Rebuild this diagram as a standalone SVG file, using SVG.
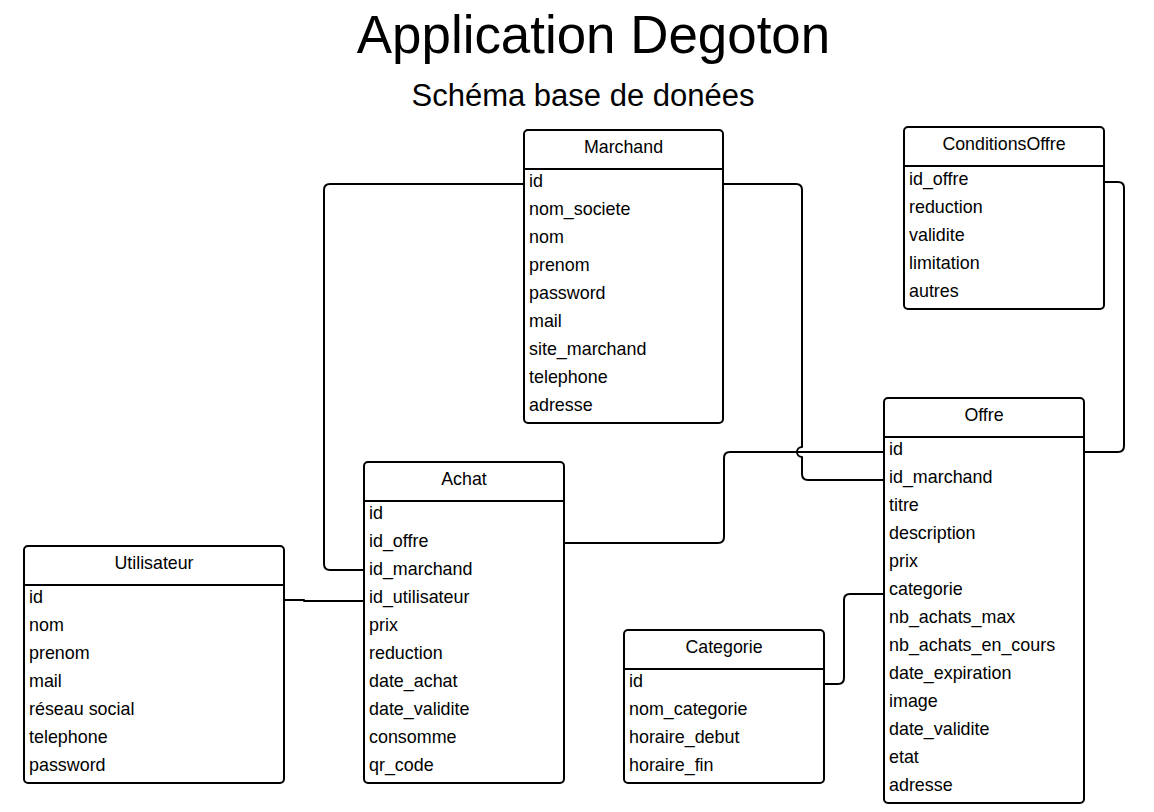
<svg xmlns="http://www.w3.org/2000/svg" width="1154" height="812" viewBox="0 0 1154 812">
<style>
.box{fill:#fff;stroke:#000;stroke-width:2}
.sep{stroke:#000;stroke-width:2}
.hd{font-family:"Liberation Sans",Arial,sans-serif;font-size:17.8px;text-anchor:middle;fill:#000}
.row{font-family:"Liberation Sans",Arial,sans-serif;font-size:17.9px;fill:#000}
.con{fill:none;stroke:#000;stroke-width:2;stroke-linejoin:round}
</style>
<rect width="1154" height="812" fill="#fff"/>
<text x="593.5" y="53" font-family="Liberation Sans, Arial, sans-serif" font-size="52.9" text-anchor="middle">Application Degoton</text>
<text x="583" y="106" font-family="Liberation Sans, Arial, sans-serif" font-size="31" text-anchor="middle">Schéma base de donées</text>

<g id="connectors">
<path class="con" d="M524,184 H330 Q324,184 324,190 V564 Q324,570 330,570 H364"/>
<path class="con" d="M723,184 H796 Q802,184 802,190 V447 A5,5 0 0 0 802,457 V474 Q802,480 808,480 H884"/>
<path class="con" d="M884,452 H730 Q724,452 724,458 V537 Q724,543 718,543 H564"/>
<path class="con" d="M1104,182 H1118 Q1124,182 1124,188 V446 Q1124,452 1118,452 H1084"/>
<path class="con" d="M284,600 H304 V601 H364"/>
<path class="con" d="M824,684 H838 Q844,684 844,678 V600 Q844,594 850,594 H884"/>
</g>

<g id="marchand">
<rect class="box" x="524" y="130" width="199" height="293" rx="4"/>
<line class="sep" x1="524" y1="169" x2="723" y2="169"/>
<text class="hd" x="623.5" y="153">Marchand</text>
<text class="row" x="529" y="187">id</text>
<text class="row" x="529" y="215">nom_societe</text>
<text class="row" x="529" y="243">nom</text>
<text class="row" x="529" y="271">prenom</text>
<text class="row" x="529" y="299">password</text>
<text class="row" x="529" y="327">mail</text>
<text class="row" x="529" y="355">site_marchand</text>
<text class="row" x="529" y="383">telephone</text>
<text class="row" x="529" y="411">adresse</text>
</g>

<g id="conditionsoffre">
<rect class="box" x="904" y="127" width="200" height="182" rx="4"/>
<line class="sep" x1="904" y1="166" x2="1104" y2="166"/>
<text class="hd" x="1004" y="150">ConditionsOffre</text>
<text class="row" x="909" y="185">id_offre</text>
<text class="row" x="909" y="213">reduction</text>
<text class="row" x="909" y="241">validite</text>
<text class="row" x="909" y="269">limitation</text>
<text class="row" x="909" y="297">autres</text>
</g>

<g id="offre">
<rect class="box" x="884" y="398" width="200" height="405" rx="4"/>
<line class="sep" x1="884" y1="437" x2="1084" y2="437"/>
<text class="hd" x="984" y="421">Offre</text>
<text class="row" x="889" y="455">id</text>
<text class="row" x="889" y="483">id_marchand</text>
<text class="row" x="889" y="511">titre</text>
<text class="row" x="889" y="539">description</text>
<text class="row" x="889" y="567">prix</text>
<text class="row" x="889" y="595">categorie</text>
<text class="row" x="889" y="623">nb_achats_max</text>
<text class="row" x="889" y="651">nb_achats_en_cours</text>
<text class="row" x="889" y="679">date_expiration</text>
<text class="row" x="889" y="707">image</text>
<text class="row" x="889" y="735">date_validite</text>
<text class="row" x="889" y="763">etat</text>
<text class="row" x="889" y="791">adresse</text>
</g>

<g id="achat">
<rect class="box" x="364" y="462" width="200" height="321" rx="4"/>
<line class="sep" x1="364" y1="501" x2="564" y2="501"/>
<text class="hd" x="464" y="485">Achat</text>
<text class="row" x="369" y="519">id</text>
<text class="row" x="369" y="547">id_offre</text>
<text class="row" x="369" y="575">id_marchand</text>
<text class="row" x="369" y="603">id_utilisateur</text>
<text class="row" x="369" y="631">prix</text>
<text class="row" x="369" y="659">reduction</text>
<text class="row" x="369" y="687">date_achat</text>
<text class="row" x="369" y="715">date_validite</text>
<text class="row" x="369" y="743">consomme</text>
<text class="row" x="369" y="771">qr_code</text>
</g>

<g id="utilisateur">
<rect class="box" x="24" y="546" width="260" height="237" rx="4"/>
<line class="sep" x1="24" y1="585" x2="284" y2="585"/>
<text class="hd" x="154" y="569">Utilisateur</text>
<text class="row" x="29" y="603">id</text>
<text class="row" x="29" y="631">nom</text>
<text class="row" x="29" y="659">prenom</text>
<text class="row" x="29" y="687">mail</text>
<text class="row" x="29" y="715">réseau social</text>
<text class="row" x="29" y="743">telephone</text>
<text class="row" x="29" y="771">password</text>
</g>

<g id="categorie">
<rect class="box" x="624" y="630" width="200" height="153" rx="4"/>
<line class="sep" x1="624" y1="669" x2="824" y2="669"/>
<text class="hd" x="724" y="653">Categorie</text>
<text class="row" x="629" y="687">id</text>
<text class="row" x="629" y="715">nom_categorie</text>
<text class="row" x="629" y="743">horaire_debut</text>
<text class="row" x="629" y="771">horaire_fin</text>
</g>
</svg>
